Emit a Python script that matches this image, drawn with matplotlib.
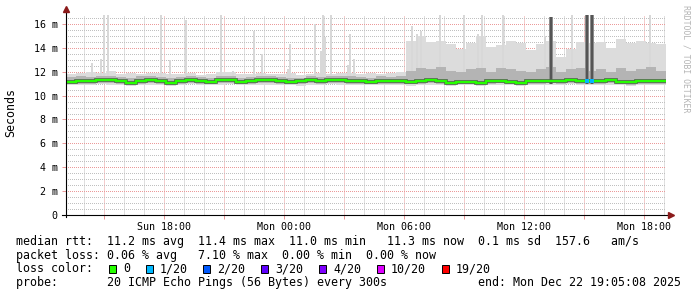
import numpy as np
import matplotlib
matplotlib.use("Agg")
import matplotlib.pyplot as plt
from matplotlib.patches import Rectangle

W, H = 697, 297
plt.rcParams["font.family"] = "DejaVu Sans Mono"
plt.rcParams["lines.scale_dashes"] = False

# half-hour bins over the 30 h window (Sun 13:05:08 .. Mon 19:05:08), values in ms
median = [11.14, 11.2, 11.25, 11.28, 11.33, 11.25, 11.08, 11.2, 11.28, 11.25,
          11.08, 11.22, 11.3, 11.2, 11.14, 11.3, 11.33, 11.14, 11.25, 11.3,
          11.28, 11.22, 11.14, 11.2, 11.28, 11.22, 11.28, 11.33, 11.25, 11.2,
          11.14, 11.25, 11.22, 11.25, 11.14, 11.22, 11.28, 11.22, 11.08, 11.17,
          11.14, 11.08, 11.2, 11.25, 11.14, 11.08, 11.25, 11.2, 11.25, 11.22,
          11.28, 11.2, 11.25, 11.2, 11.28, 11.14, 11.11, 11.2, 11.22, 11.2]
lo_env = [10.9, 10.85, 10.9, 10.95, 10.9, 10.85, 10.8, 10.9, 10.9, 10.85,
          10.8, 10.9, 10.95, 10.9, 10.85, 10.9, 10.95, 10.85, 10.9, 10.9,
          10.9, 10.9, 10.85, 10.8, 10.9, 10.9, 10.95, 10.9, 10.9, 10.85,
          10.85, 10.9, 10.9, 10.9, 10.8, 10.85, 10.9, 10.9, 10.8, 10.85,
          10.85, 10.8, 10.9, 10.9, 10.85, 10.8, 10.9, 10.9, 10.9, 10.9,
          10.95, 10.9, 10.9, 10.9, 10.9, 10.85, 10.8, 10.9, 10.9, 10.9]
mid_lo = [11.0, 10.95, 11.0, 11.05, 11.05, 11.0, 10.9, 11.0, 11.05, 11.0,
          10.9, 11.0, 11.05, 11.0, 10.95, 11.05, 11.05, 10.95, 11.0, 11.05,
          11.05, 11.0, 10.95, 11.0, 11.05, 11.0, 11.05, 11.05, 11.0, 11.0,
          10.95, 11.0, 11.0, 11.0, 10.95, 11.0, 11.05, 11.0, 10.9, 10.95,
          10.95, 10.9, 11.0, 11.05, 10.95, 10.9, 11.0, 11.0, 11.05, 11.0,
          11.05, 11.0, 11.0, 11.0, 11.05, 10.95, 10.9, 11.0, 11.0, 11.0]
mid_hi = [11.55, 11.6, 11.55, 11.6, 11.65, 11.55, 11.5, 11.6, 11.6, 11.55,
          11.5, 11.55, 11.6, 11.55, 11.5, 11.65, 11.6, 11.5, 11.55, 11.6,
          11.6, 11.55, 11.5, 11.5, 11.6, 11.55, 11.6, 11.65, 11.6, 11.55,
          11.5, 11.6, 11.55, 11.6, 12.1, 12.3, 12.2, 12.4, 12.1, 12.0,
          12.2, 12.3, 12.0, 12.3, 12.2, 12.1, 12.0, 12.2, 12.4, 12.0,
          12.2, 12.3, 12.1, 12.2, 12.0, 12.3, 12.1, 12.2, 12.4, 12.1]
hi_env = [11.8, 11.9, 12.0, 11.9, 12.1, 11.8, 11.9, 11.8, 11.9, 11.9,
          11.8, 11.8, 11.9, 11.7, 11.8, 12.0, 12.0, 11.8, 11.8, 11.9,
          11.8, 11.8, 11.9, 11.7, 11.8, 11.9, 11.8, 11.9, 11.9, 11.8,
          11.9, 11.8, 11.9, 12.0, 14.6, 15.0, 14.5, 14.6, 14.3, 13.9,
          14.4, 15.0, 14.1, 14.2, 14.6, 14.4, 13.8, 14.3, 14.6, 13.2,
          13.9, 14.5, 14.4, 14.5, 14.0, 14.7, 14.4, 14.6, 14.4, 14.3]

# single slow pings (hours from start, top in ms)
spike_t = [1.3, 1.75, 1.9, 2.1, 4.75, 5.2, 6.0, 7.75, 8.35, 9.4, 9.8,
           11.1, 11.2, 12.45, 12.75, 12.85, 12.95, 13.25, 14.1, 14.2, 14.4,
           17.3, 17.55, 17.75, 18.7, 19.9, 20.6, 20.8, 21.85, 23.95, 25.3, 29.2]
spike_top = [12.7, 13.1, 16.75, 16.75, 16.75, 13.0, 16.35, 16.75, 12.1, 15.4, 13.5,
             12.2, 14.3, 16.0, 13.7, 16.75, 14.9, 16.75, 12.6, 15.2, 13.1,
             15.8, 15.2, 15.4, 16.75, 16.75, 15.2, 16.75, 16.75, 14.95, 16.75, 16.75]
dark_t = [24.25, 26.03, 26.29]
dark_top = [16.55, 16.75, 16.75]
loss_t = [26.05, 26.32]
loss_med = [11.25, 11.25]

y_labels = ["0", "2 m", "4 m", "6 m", "8 m", "10 m", "12 m", "14 m", "16 m"]
x_labels = ["", "Sun 18:00", "", "Mon 00:00", "", "Mon 06:00", "", "Mon 12:00", "", "Mon 18:00"]
loss_names = ["0", "1/20", "2/20", "3/20", "4/20", "10/20", "19/20"]
loss_colors = ["#26ff00", "#00b8ff", "#0059ff", "#5e00ff", "#7e00ff", "#dd00ff", "#ff0000"]

RED = "#eb9a9a"
GRAY = "#c0c0c0"
DOT_H = (0.36, (0.72, 0.72))
DOT_V = (0, (0.72, 0.72))

fig = plt.figure(figsize=(W / 100, H / 100), dpi=100)
ax = fig.add_axes([66 / W, 82 / H, 600 / W, 200 / H])

edges = np.arange(len(median) + 1) * 0.5
ax.stairs(hi_env, edges, baseline=lo_env, fill=True, color="#dcdcdc", zorder=2)
base = np.full(len(spike_t), 11.0)
ax.bar(spike_t, np.array(spike_top) - base, bottom=base, width=0.1,
       color="#d8d8d8", zorder=2)
ax.stairs(mid_hi, edges, baseline=mid_lo, fill=True, color="#b4b4b4", zorder=3)
dbase = np.full(len(dark_t), 11.0)
ax.bar(dark_t, np.array(dark_top) - dbase, bottom=dbase, width=0.2,
       color="#8c8c8c", zorder=3)
ax.bar(dark_t, np.array(dark_top) - dbase, bottom=dbase, width=0.1,
       color="#555555", zorder=3)
ax.stairs(median, edges, baseline=None, color="#505050", lw=2.6, zorder=4)
ax.stairs(median, edges, baseline=None, color=loss_colors[0], lw=1.7, zorder=5)
ax.scatter(loss_t, loss_med, marker="s", s=8, color=loss_colors[1], lw=0, zorder=6)

ax.set_xlim(0, 30)
ax.set_ylim(0, 16.75)

start = 13 + 5 / 60 + 8 / 3600
ax.set_xticks(np.arange(15, 43, 3) - start)
ax.set_xticklabels(x_labels)
ax.set_xticks(np.arange(14, 44) - start, minor=True)
ax.set_yticks(np.arange(0, 17, 2))
ax.set_yticklabels(y_labels)
ax.set_yticks(np.arange(0.5, 16.75, 0.5), minor=True)

ax.yaxis.grid(True, which="minor", color=GRAY, ls=DOT_H, lw=0.72, zorder=1)
ax.yaxis.grid(True, which="major", color=RED, ls=DOT_H, lw=0.72, zorder=1)
ax.xaxis.grid(True, which="minor", color=GRAY, ls=DOT_V, lw=0.72, zorder=1)
ax.xaxis.grid(True, which="major", color=RED, ls=DOT_V, lw=0.72, zorder=1)
ax.set_axisbelow(True)
ax.tick_params(which="minor", length=0)
ax.tick_params(axis="x", which="major", length=3, width=0.72, color=RED, pad=2, labelsize=7.2)
ax.tick_params(axis="y", which="major", length=3, width=0.72, color=RED, pad=3, labelsize=7.2)
for s in ax.spines.values():
    s.set_visible(False)

# axes with arrows
ax.plot([0, 0], [-0.01, 1.02], transform=ax.transAxes, color="black", lw=0.8, clip_on=False, zorder=7)
ax.plot([-0.006, 1.007], [0, 0], transform=ax.transAxes, color="black", lw=0.8, clip_on=False, zorder=7)
ax.plot(0, 1.03, marker="^", ms=4, color="#8b1a1a", transform=ax.transAxes, clip_on=False, zorder=8)
ax.plot(1.008, 0, marker=">", ms=4, color="#8b1a1a", transform=ax.transAxes, clip_on=False, zorder=8)

def fx(x):
    return x / W

def fy(y):
    return 1 - y / H

fig.text(fx(11), fy(113), "Seconds", rotation=90, ha="center", va="center", fontsize=8.4)
fig.text(fx(686), fy(5), "RRDTOOL / TOBI OETIKER", rotation=270, ha="center", va="top",
         fontsize=5.9, color="#b4b4b4")

LS = 8.37
fig.text(fx(16.5), fy(242), "median rtt:  11.2 ms avg  11.4 ms max  11.0 ms min   11.3 ms now  0.1 ms sd  157.6   am/s",
         va="center", fontsize=LS)
fig.text(fx(16.5), fy(255.5), "packet loss: 0.06 % avg   7.10 % max  0.00 % min  0.00 % now",
         va="center", fontsize=LS)
fig.text(fx(16.5), fy(269), "loss color:", va="center", fontsize=LS)
sq_left = [109, 146, 203, 261, 319, 377, 442]
for xl, name, c in zip(sq_left, loss_names, loss_colors):
    fig.patches.append(Rectangle((fx(xl), fy(273)), 7 / W, 8 / H, transform=fig.transFigure,
                                 facecolor=c, edgecolor="black", lw=0.7))
    fig.text(fx(xl + 14), fy(269), name, va="center", fontsize=LS)
fig.text(fx(16.5), fy(282.5), "probe:       20 ICMP Echo Pings (56 Bytes) every 300s",
         va="center", fontsize=LS)
fig.text(fx(478), fy(282.5), "end: Mon Dec 22 19:05:08 2025", va="center", fontsize=LS)

fig.savefig("out.png", dpi=100, facecolor="white")
